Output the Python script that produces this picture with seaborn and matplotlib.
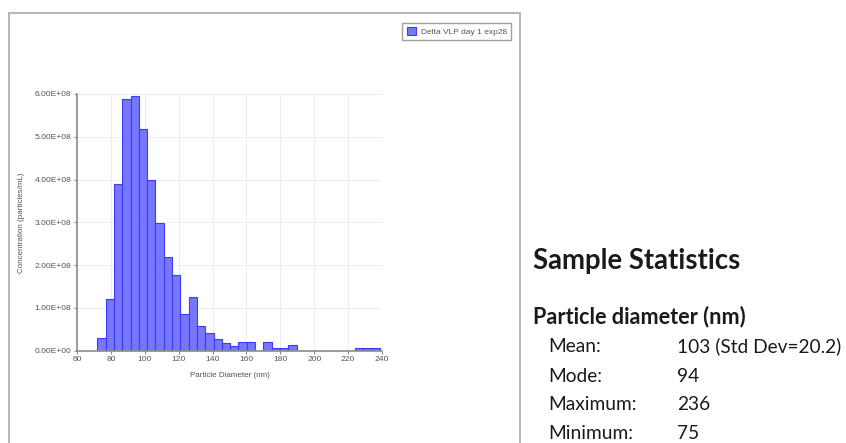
import numpy as np
import pandas as pd
import matplotlib
matplotlib.use("Agg")
import matplotlib.pyplot as plt
from matplotlib.patches import Rectangle, Patch
from matplotlib.ticker import FuncFormatter, MultipleLocator
import seaborn as sns

# Size distribution: histogram bins (nm) and concentration per bin (x 1e8 particles/mL)
bin_start = 72.0
bin_width = 4.9
concentration_e8 = [0.29, 1.22, 3.90, 5.88, 5.96, 5.18, 3.99, 2.98, 2.20, 1.77,
                    0.86, 1.26, 0.57, 0.41, 0.27, 0.19, 0.12, 0.20, 0.20, 0.00,
                    0.20, 0.06, 0.06, 0.13, 0.00, 0.00, 0.00, 0.00, 0.00, 0.00,
                    0.00, 0.06, 0.06, 0.06]
series_label = "Delta VLP day 1 exp28"

x_ticks = [60, 80, 100, 120, 140, 160, 180, 200, 220, 240]

# Summary panel
stats_title = "Sample Statistics"
stats_subtitle = "Particle diameter (nm)"
stat_names = ["Mean:", "Mode:", "Maximum:", "Minimum:"]
stat_values = ["103 (Std Dev=20.2)", "94", "236", "75"]

n_bins = len(concentration_e8)
edges = bin_start + bin_width * np.arange(n_bins + 1)
centers = (edges[:-1] + edges[1:]) / 2
df = pd.DataFrame({"diameter": centers,
                   "conc": np.array(concentration_e8) * 1e8})

sns.set_theme(style="white")
plt.rcParams["font.family"] = ["Liberation Sans", "DejaVu Sans"]

W, H = 846, 443
fig = plt.figure(figsize=(W / 100, H / 100), dpi=100)
ax = fig.add_axes([77 / W, 1 - 350.7 / H, (382 - 77) / W, (350.7 - 94) / H])

bar_face = "#7676ff"
bar_edge = "#3c3cf8"
sns.histplot(data=df, x="diameter", weights="conc", binwidth=bin_width,
             binrange=(float(edges[0]), float(edges[-1])), ax=ax,
             color=bar_face, edgecolor=bar_edge, linewidth=0.8, alpha=1.0)

ax.set_xlim(60, 240)
ax.set_ylim(0, 6e8)
ax.set_xticks(x_ticks)
ax.yaxis.set_major_locator(MultipleLocator(1e8))
ax.yaxis.set_major_formatter(FuncFormatter(lambda v, p: f"{v:.2E}"))
ax.grid(True, color="#eeeeee", linewidth=0.8)
ax.set_axisbelow(True)
for s in ("top", "right"):
    ax.spines[s].set_visible(False)
for s in ("left", "bottom"):
    ax.spines[s].set_color("#8c8c8c")
    ax.spines[s].set_linewidth(1.2)
ax.tick_params(axis="both", which="major", labelsize=6.1, colors="#8c8c8c",
               labelcolor="#555555", length=2.5, width=0.8, pad=1.5,
               left=True, bottom=True)
ax.set_xlabel("Particle Diameter (nm)", fontsize=5.8, color="#555555", labelpad=6)
ax.set_ylabel("Concentration (particles/mL)", fontsize=5.8, color="#555555", labelpad=7)

# Legend box in the upper right of the chart frame
handle = Patch(facecolor=bar_face, edgecolor=bar_edge, linewidth=0.8)
leg = ax.legend([handle], [series_label], loc="upper right",
                bbox_to_anchor=(511 / W, 1 - 22.5 / H), bbox_transform=fig.transFigure,
                fontsize=6.0, frameon=True, fancybox=False, shadow=False,
                handlelength=1.1, handleheight=1.1, handletextpad=0.6,
                borderpad=0.5, borderaxespad=0.0, labelcolor="#555555")
leg.get_frame().set_edgecolor("#8a8a8a")
leg.get_frame().set_linewidth(1.0)

# Outer chart frame
frame = Rectangle((9 / W, -0.02), (520 - 9) / W, 1.02 - 12.7 / H,
                  transform=fig.transFigure, fill=False,
                  edgecolor="#b8b8b8", linewidth=1.5)
fig.patches.append(frame)

# Statistics panel
txt_font = ["Lato", "DejaVu Sans"]
fig.text(533 / W, 1 - 269 / H, stats_title, fontsize=19.8, fontweight="bold",
         family=txt_font, color="#1a1a1a", va="baseline", ha="left")
fig.text(533 / W, 1 - 323 / H, stats_subtitle, fontsize=15.6, fontweight="bold",
         family=txt_font, color="#1a1a1a", va="baseline", ha="left")
row_baselines = [352, 381.5, 410.5, 439]
for name, val, yb in zip(stat_names, stat_values, row_baselines):
    fig.text(548 / W, 1 - yb / H, name, fontsize=13.8, family=txt_font,
             color="#1a1a1a", va="baseline", ha="left")
    fig.text(677 / W, 1 - yb / H, val, fontsize=13.8, family=txt_font,
             color="#1a1a1a", va="baseline", ha="left")

fig.savefig("out.png", dpi=100)
